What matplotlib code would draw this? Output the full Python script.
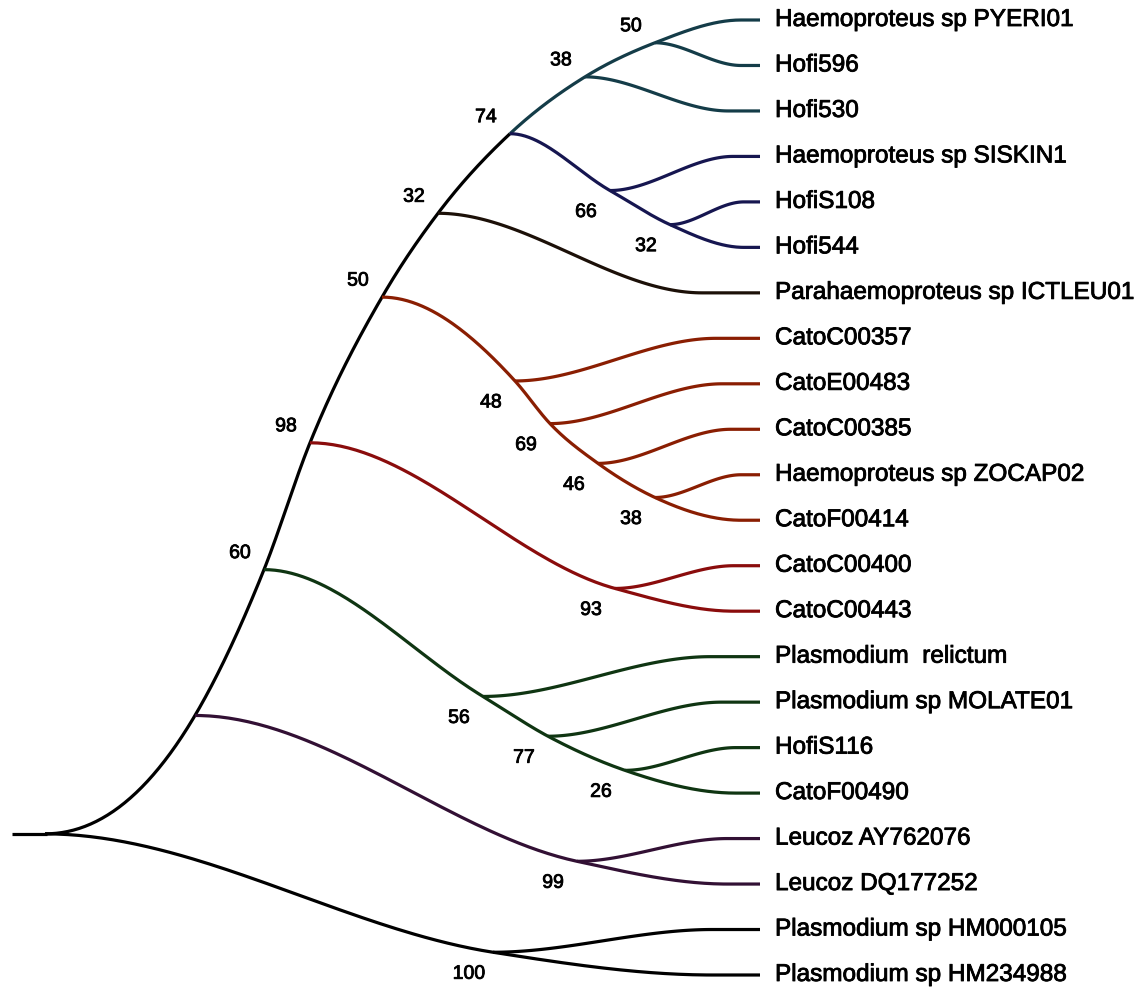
import numpy as np
import matplotlib
matplotlib.use("Agg")
import matplotlib.pyplot as plt
import matplotlib.patheffects as pe

plt.rcParams['font.family'] = ['Liberation Sans', 'DejaVu Sans']

# ---------------- data ----------------
leaf_names = [
    "Haemoproteus sp PYERI01", "Hofi596", "Hofi530", "Haemoproteus sp SISKIN1",
    "HofiS108", "Hofi544", "Parahaemoproteus sp ICTLEU01", "CatoC00357",
    "CatoE00483", "CatoC00385", "Haemoproteus sp ZOCAP02", "CatoF00414",
    "CatoC00400", "CatoC00443", "Plasmodium  relictum", "Plasmodium sp MOLATE01",
    "HofiS116", "CatoF00490", "Leucoz AY762076", "Leucoz DQ177252",
    "Plasmodium sp HM000105", "Plasmodium sp HM234988",
]
leaf_parent = [
    "n50t", "n50t", "n38", "n66", "n32b", "n32b", "n32", "n48",
    "n69", "n46", "n38c", "n38c", "n93", "n93", "n56", "n77",
    "n26", "n26", "n99", "n99", "n100", "n100",
]
leaf_clade = [
    "teal", "teal", "teal", "navy", "navy", "navy", "para", "cato",
    "cato", "cato", "cato", "cato", "red", "red", "green", "green",
    "green", "green", "purple", "purple", "black", "black",
]

node_names   = ["root", "n100", "na", "n99", "n60", "n56", "n77", "n26", "n98", "n93",
                "n50", "n48", "n69", "n46", "n38c", "n32", "n74", "n66", "n32b", "n38", "n50t"]
node_parent  = [None, "root", "root", "na", "na", "n60", "n56", "n77", "n60", "n98",
                "n98", "n50", "n48", "n69", "n46", "n50", "n32", "n74", "n66", "n74", "n38"]
node_x       = [45, 493, 195, 577, 264, 483, 548, 625, 310, 615,
                382, 515, 550, 598, 655, 438, 510, 610, 670, 585, 655]
node_support = [None, 100, None, 99, 60, 56, 77, 26, 98, 93,
                50, 48, 69, 46, 38, 32, 74, 66, 32, 38, 50]
node_clade   = ["black", "black", "black", "purple", "black", "green", "green", "green", "black", "red",
                "black", "cato", "cato", "cato", "cato", "black", "black", "navy", "navy", "teal", "teal"]

clade_colors = {
    "black": "#000000", "teal": "#143c48", "navy": "#161650", "para": "#1c1008",
    "cato": "#8a1e02", "red": "#8a0c0c", "green": "#0f3512", "purple": "#321034",
}

# ---------------- layout ----------------
W, H = 1141, 989
LEAF_X = 760
LABEL_X = 775
ROOT_STUB_X = 12
Y_TOP, Y_STEP = 20, 45.476
FLAT_FRAC = 0.82

pos = {}
children = {n: [] for n in node_names}
clade = {}
for i, (nm, par, cl) in enumerate(zip(leaf_names, leaf_parent, leaf_clade)):
    key = ("leaf", i)
    pos[key] = (LEAF_X, Y_TOP + Y_STEP * i)
    children[par].append(key)
    clade[key] = cl
for nm, par, cl in zip(node_names, node_parent, node_clade):
    clade[nm] = cl
    if par is not None:
        children[par].append(nm)
nx = dict(zip(node_names, node_x))
parent_of = dict(zip(node_names, node_parent))


def y_of(k):
    if k in pos:
        return pos[k][1]
    y = float(np.mean([y_of(c) for c in children[k]]))
    pos[k] = (nx[k], y)
    return y


y_of("root")


def is_leaf(k):
    return isinstance(k, tuple)


def is_up(n):
    return pos[n][1] < pos[parent_of[n]][1]


def cont_child(n):
    ch = sorted(children[n], key=lambda c: pos[c][1])
    return ch[0] if is_up(n) else ch[-1]


starts = [("root", c) for c in children["root"]]
for n in node_names:
    if n == "root":
        continue
    c0 = cont_child(n)
    for c in children[n]:
        if c != c0:
            starts.append((n, c))


def slopes(xs, ys):
    xs, ys = np.asarray(xs, float), np.asarray(ys, float)
    h = np.diff(xs)
    d = np.diff(ys) / h
    m = np.zeros(len(xs))
    for k in range(1, len(xs) - 1):
        if d[k - 1] * d[k] > 0:
            m[k] = (h[k] * d[k - 1] + h[k - 1] * d[k]) / (h[k - 1] + h[k])
    # monotonicity limiter
    for k in range(len(d)):
        if d[k] == 0:
            m[k] = m[k + 1] = 0
            continue
        a, b = m[k] / d[k], m[k + 1] / d[k]
        s = a * a + b * b
        if s > 9:
            t = 3 / np.sqrt(s)
            m[k], m[k + 1] = t * a * d[k], t * b * d[k]
    m[0] = 0.0
    m[-1] = 0.0
    return m


def hermite(x0, x1, y0, y1, m0, m1, n=80):
    t = np.linspace(0, 1, n)
    h = x1 - x0
    h00 = 2 * t**3 - 3 * t**2 + 1
    h10 = t**3 - 2 * t**2 + t
    h01 = -2 * t**3 + 3 * t**2
    h11 = t**3 - t**2
    return x0 + t * h, h00 * y0 + h10 * h * m0 + h01 * y1 + h11 * h * m1


fig = plt.figure(figsize=(W / 100, H / 100), dpi=100)
ax = fig.add_axes([0, 0, 1, 1])
ax.set_xlim(0, W)
ax.set_ylim(H, 0)
ax.axis("off")

LW = 2.3
for s, c in starts:
    keys = [s, c]
    while not is_leaf(c):
        c = cont_child(c)
        keys.append(c)
    leaf = keys[-1]
    last_int = keys[-2]
    xs = [pos[k][0] for k in keys[:-1]]
    ys = [pos[k][1] for k in keys[:-1]]
    x_flat = pos[last_int][0] + FLAT_FRAC * (LEAF_X - pos[last_int][0])
    xs += [x_flat]
    ys += [pos[leaf][1]]
    m = slopes(xs, ys)
    seg_cols = [clade_colors[clade[k]] for k in keys[1:]]
    # build runs of same colour
    runs = []
    for j in range(len(xs) - 1):
        px, py = hermite(xs[j], xs[j + 1], ys[j], ys[j + 1], m[j], m[j + 1])
        if j == len(xs) - 2:
            px = np.append(px, LEAF_X)
            py = np.append(py, pos[leaf][1])
        if runs and runs[-1][0] == seg_cols[j]:
            runs[-1][1].extend(px[1:])
            runs[-1][2].extend(py[1:])
        else:
            runs.append([seg_cols[j], list(px), list(py)])
    for col, px, py in runs:
        ax.plot(px, py, color=col, lw=LW, solid_capstyle="butt", solid_joinstyle="round")

# root stub
ax.plot([ROOT_STUB_X, pos["root"][0] + 2], [pos["root"][1]] * 2, color="black", lw=LW,
        solid_capstyle="butt")

stroke = [pe.withStroke(linewidth=0.6, foreground="black")]

# leaf labels
for i, nm in enumerate(leaf_names):
    ax.text(LABEL_X, pos[("leaf", i)][1], nm, fontsize=17.5, va="center", ha="left",
            color="black", path_effects=stroke)

# support values
for nm, sup in zip(node_names, node_support):
    if sup is None:
        continue
    x, y = pos[nm]
    dy = -16 if is_up(nm) else 22
    ax.text(x - 24, y + dy, str(sup), fontsize=14, ha="center", va="center",
            path_effects=stroke)

fig.savefig("out.png", dpi=100)
